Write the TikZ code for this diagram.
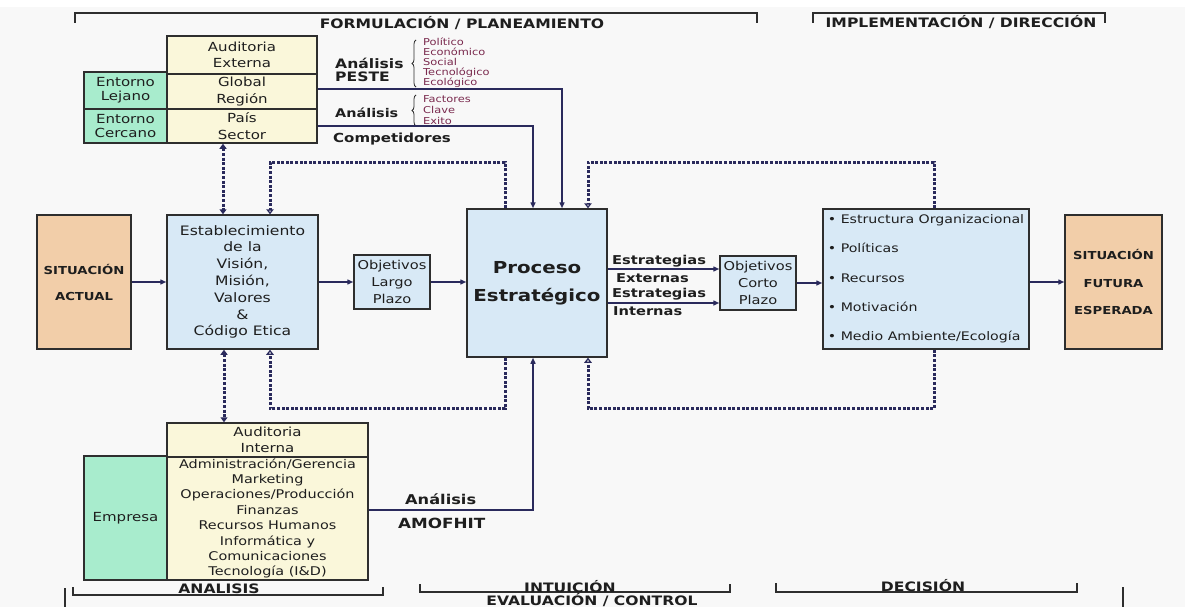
\documentclass[tikz,border=0pt]{standalone}
\usepackage{fontspec}
\setmainfont{DejaVu Sans}[FakeStretch=1.2]
\usetikzlibrary{arrows.meta,decorations.pathreplacing,calc}
\definecolor{bg}{HTML}{F8F8F8}
\definecolor{bordc}{HTML}{2E2E2E}
\definecolor{navy}{HTML}{2A2A5C}
\definecolor{pch}{HTML}{F2CEA9}
\definecolor{blu}{HTML}{D8E9F6}
\definecolor{yel}{HTML}{FAF7DA}
\definecolor{grn}{HTML}{A8ECCD}
\definecolor{txt}{HTML}{1E1E1E}
\definecolor{maroon}{HTML}{7A2A4E}
\newcommand{\sz}[2]{\fontsize{#1pt}{#2pt}\selectfont}
\begin{document}
\begin{tikzpicture}[x=1pt,y=-1pt,
  box/.style={draw=bordc, line width=1.5pt, inner sep=0pt, align=center, text=txt},
  ybox/.style={box, fill=yel, font=\sz{12.5}{16.5}},
  gbox/.style={box, fill=grn, font=\sz{12.5}{14}},
  bbox/.style={box, fill=blu},
  pbox/.style={box, fill=pch},
  lbl/.style={anchor=west, inner sep=0pt, text=txt, font=\bfseries\sz{13}{15}},
  hdr/.style={inner sep=0pt, text=txt, font=\bfseries\sz{13}{15}},
  small/.style={anchor=north west, inner sep=0pt, align=left, text=maroon, font=\sz{9.5}{10}},
  arr/.style={draw=navy, line width=1.4pt, -{Triangle[length=6pt,width=5pt]}},
  dot/.style={draw=navy, line width=3pt, dash pattern=on 3pt off 1.6pt},
  tipb/.style={{Triangle[length=5pt,width=7pt]}-{Triangle[length=5pt,width=7pt]}},
  tipo/.style={-{Triangle[open,length=5pt,width=7.5pt,line width=1.3pt]}},
  brk/.style={draw=bordc, line width=1.6pt},
  brc/.style={draw=bordc, line width=0.8pt, decorate, decoration={brace, amplitude=4pt}}
]
\path[use as bounding box, fill=bg] (0,0) rectangle (1185,607);
\fill[white] (0,0) rectangle (1185,7);

% ---------- brackets ----------
\draw[brk] (75,23) -- (75,13) -- (757,13) -- (757,23);
\node[hdr] (hf) at (462,23) {FORMULACIÓN / PLANEAMIENTO};
\draw[brk] (813,23) -- (813,13) -- (1105,13) -- (1105,23);
\node[hdr] (hi) at (961,22) {IMPLEMENTACIÓN / DIRECCIÓN};
\draw[brk] (73,587) -- (73,595) -- (383,595) -- (383,587);
\node[hdr] (ha) at (219,589) {ANALISIS};
\draw[brk] (420,584) -- (420,592) -- (730,592) -- (730,584);
\node[hdr] (hn) at (570,587) {INTUICIÓN};
\node[hdr] (hv) at (592,600) {EVALUACIÓN / CONTROL};
\draw[brk] (776,583) -- (776,592) -- (1077,592) -- (1077,583);
\node[hdr] (hd) at (923,586) {DECISIÓN};
\draw[brk] (65,588) -- (65,607);
\draw[brk] (1123,587) -- (1123,607);

% ---------- external audit ----------
\node[gbox, minimum width=83, minimum height=37] (lej) at (125.5,90.5) {Entorno\\Lejano};
\node[gbox, minimum width=83, minimum height=34] (cer) at (125.5,126) {Entorno\\Cercano};
\node[ybox, minimum width=150, minimum height=38] (ext) at (242,55) {Auditoria\\Externa};
\node[ybox, minimum width=150, minimum height=35] (glob) at (242,91.5) {Global\\Región};
\node[ybox, minimum width=150, minimum height=34] (pais) at (242,126) {País\\Sector};

\node[lbl] (an1) at (335,63) {Análisis};
\node[lbl] (pes) at (335,77) {PESTE};
\draw[brc] (416,87) -- (416,40);
\node[small] (pl) at (423,38) {Político\\Económico\\Social\\Tecnológico\\Ecológico};
\node[lbl, font=\bfseries\sz{12}{14}] (an2) at (335,113) {Análisis};
\draw[brc] (416,126) -- (416,95);
\node[small, font=\sz{9.5}{11}] (fc) at (423,95) {Factores\\Clave\\Exito};
\node[lbl, font=\bfseries\sz{12.5}{14}] (comp) at (333,139) {Competidores};

% ---------- main row ----------
\node[pbox, minimum width=94, minimum height=134, font=\bfseries\sz{11}{26}] (sa) at (84,282) {SITUACIÓN\\ACTUAL};
\node[bbox, minimum width=151, minimum height=134, font=\sz{13}{16.8}] (est) at (242.5,282)
  {Establecimiento\\de la\\Visión,\\Misión,\\Valores\\\&\\Código Etica};
\node[bbox, minimum width=76, minimum height=54, font=\sz{12.2}{17}] (olp) at (392,282) {Objetivos\\Largo\\Plazo};
\node[bbox, minimum width=140, minimum height=148, font=\bfseries\sz{16.5}{28}] (pe) at (537,283) {Proceso\\Estratégico};
\node[bbox, minimum width=76, minimum height=54, font=\sz{12.2}{17}] (ocp) at (758,283) {Objetivos\\Corto\\Plazo};
\node[bbox, minimum width=206, minimum height=140, align=left, font=\sz{11.8}{29.3}] (ee) at (926,279)
  {• Estructura Organizacional\\• Políticas\\• Recursos\\• Motivación\\• Medio Ambiente/Ecología};
\node[pbox, minimum width=97, minimum height=134, font=\bfseries\sz{11}{27.5}] (sf) at (1113.5,282) {SITUACIÓN\\FUTURA\\ESPERADA};

\node[lbl, font=\bfseries\sz{12.2}{14}] (e1) at (612,261) {Estrategias};
\node[lbl, font=\bfseries\sz{12.2}{14}] (e2) at (616,278) {Externas};
\node[lbl, font=\bfseries\sz{12.2}{14}] (e3) at (612,294) {Estrategias};
\node[lbl, font=\bfseries\sz{12.2}{14}] (e4) at (613,311) {Internas};

% ---------- internal audit ----------
\node[gbox, minimum width=83, minimum height=124] (emp) at (125.5,518) {Empresa};
\node[ybox, minimum width=201, minimum height=34, font=\sz{12.5}{16}] (aih) at (267.5,440) {Auditoria\\Interna};
\node[ybox, minimum width=201, minimum height=123, font=\sz{12}{15.4}] (ail) at (267.5,518.5)
  {Administración/Gerencia\\Marketing\\Operaciones/Producción\\Finanzas\\Recursos Humanos\\Informática y\\Comunicaciones\\Tecnología (I\&D)};
\node[lbl, font=\bfseries\sz{13.5}{15}] (an3) at (405,499) {Análisis};
\node[lbl, font=\bfseries\sz{14}{15}] (amo) at (398,523) {AMOFHIT};

% ---------- solid connectors ----------
\draw[arr] (sa) -- (est);
\draw[arr] (est) -- (olp);
\draw[arr] (olp.east) -- (olp.east -| pe.west);
\coordinate (s1) at ([yshift=14pt]pe.east);
\coordinate (s2) at ([yshift=-20pt]pe.east);
\draw[arr] (s1) -- (s1 -| ocp.west);
\draw[arr] (s2) -- (s2 -| ocp.west);
\draw[arr] (ocp.east) -- (ocp.east -| ee.west);
\draw[arr] (sf.west -| ee.east) -- (sf.west);

\coordinate (g1) at ([yshift=2.5pt]glob.east);
\coordinate (c1) at ([xshift=25pt]pe.north);
\coordinate (c2) at ([xshift=-4pt]pe.north);
\draw[arr] (g1) -| (c1);
\draw[arr] (pais.east) -| (c2);

\coordinate (a1) at ([yshift=8.5pt]ail.east);
\coordinate (a2) at ([xshift=-4pt]pe.south);
\draw[arr] (a1) -| (a2);

% ---------- dotted connectors ----------
\coordinate (p1) at ([xshift=-19pt]pais.south);
\draw[dot, tipb] (p1) -- (p1 |- est.north);
\coordinate (p2) at ([xshift=-18.5pt]est.south);
\draw[dot, tipb] (p2) -- (p2 |- aih.north);

\coordinate (q1) at ([xshift=-32pt]pe.north);
\coordinate (q2) at ([xshift=27.5pt]est.north);
\draw[dot, tipo] (q1) -- ++(0,-46) -| (q2);
\coordinate (r1) at ([xshift=8pt]ee.north);
\coordinate (r2) at ([xshift=51pt]pe.north);
\draw[dot, tipo] (r1) -- ++(0,-46) -| (r2);
\coordinate (q3) at ([xshift=-32pt]pe.south);
\coordinate (q4) at ([xshift=27.5pt]est.south);
\draw[dot, tipo] (q3) -- ++(0,51) -| (q4);
\coordinate (r3) at ([xshift=8pt]ee.south);
\coordinate (r4) at ([xshift=51pt]pe.south);
\draw[dot, tipo] (r3) -- ++(0,59) -| (r4);
\end{tikzpicture}
\end{document}
